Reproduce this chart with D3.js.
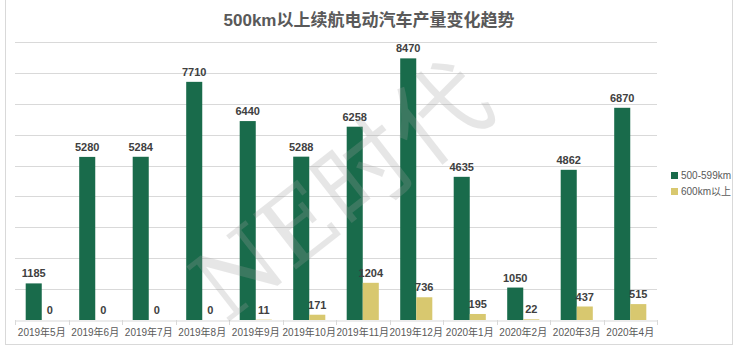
<!DOCTYPE html>
<html><head><meta charset="utf-8">
<script src="https://cdn.jsdelivr.net/npm/d3@7"></script>
<style>html,body{margin:0;padding:0;background:#fff;}svg{display:block;}</style>
</head><body>
<svg id="c" width="737" height="350"></svg>
<script>
const categories = ["2019年5月","2019年6月","2019年7月","2019年8月","2019年9月","2019年10月","2019年11月","2019年12月","2020年1月","2020年2月","2020年3月","2020年4月"];
const series500 = [1185,5280,5284,7710,6440,5288,6258,8470,4635,1050,4862,6870];
const series600 = [0,0,0,0,11,171,1204,736,195,22,437,515];
const seriesNames = ["500-599km","600km以上"];
const yTicks = [0,1000,2000,3000,4000,5000,6000,7000,8000,9000];

const colors = ["#196b4b","#d8c86f"];
const font = "'Liberation Sans','Noto Sans CJK SC',Arial,sans-serif";
const svg = d3.select("#c");

// outer frame
svg.append("rect").attr("x",5.5).attr("y",-1).attr("width",727).attr("height",345.5)
  .attr("fill","none").attr("stroke","#d9d9d9").attr("stroke-width",1);

const x0 = d3.scaleBand().domain(categories).range([15,657]).paddingInner(0.4).paddingOuter(0.2);
const x1 = d3.scaleBand().domain(seriesNames).range([0,x0.bandwidth()]);
const y = d3.scaleLinear().domain([0,9000]).range([320,42]);

// gridlines
svg.append("g").selectAll("line").data(yTicks.slice(1)).join("line")
  .attr("x1",15).attr("x2",657)
  .attr("y1",d=>Math.round(y(d))+0.5).attr("y2",d=>Math.round(y(d))+0.5)
  .attr("stroke","#d9d9d9").attr("stroke-width",1);

// title
svg.append("text").attr("x",369).attr("y",26).attr("text-anchor","middle")
  .attr("font-family",font).attr("font-size",17).attr("font-weight","bold")
  .attr("fill","#595959").text("500km以上续航电动汽车产量变化趋势");

const data = categories.map((c,i)=>({cat:c, vals:[series500[i],series600[i]]}));

const groups = svg.append("g").selectAll("g").data(data).join("g")
  .attr("transform",d=>`translate(${x0(d.cat)},0)`);
groups.selectAll("rect").data(d=>d.vals.map((v,j)=>({v,j}))).join("rect")
  .attr("x",d=>x1(seriesNames[d.j])).attr("width",x1.bandwidth())
  .attr("y",d=>y(d.v)).attr("height",d=>y(0)-y(d.v))
  .attr("fill",d=>colors[d.j]);
groups.selectAll("text").data(d=>d.vals.map((v,j)=>({v,j}))).join("text")
  .attr("x",d=>x1(seriesNames[d.j])+x1.bandwidth()/2)
  .attr("y",d=>y(d.v)-6)
  .attr("text-anchor","middle").attr("font-family",font).attr("font-size",11)
  .attr("font-weight","bold").attr("fill","#404040").text(d=>d.v);

// x axis
const xAxis = d3.axisBottom(x0).tickSize(0).tickPadding(8);
const ax = svg.append("g").attr("transform",`translate(0,${y(0)+0.5})`).call(xAxis);
ax.select(".domain").attr("stroke","#d9d9d9");
ax.selectAll("text").attr("font-family",font).attr("font-size",10).attr("fill","#595959");
// ticks at category boundaries
const bounds = d3.range(categories.length+1).map(i=>15+i*(642/categories.length));
svg.append("g").selectAll("line").data(bounds).join("line")
  .attr("x1",d=>Math.round(d)+0.5).attr("x2",d=>Math.round(d)+0.5)
  .attr("y1",y(0)).attr("y2",y(0)+5).attr("stroke","#d9d9d9");

// legend
const lg = svg.append("g").selectAll("g").data(seriesNames).join("g")
  .attr("transform",(d,i)=>`translate(671,${172+i*16})`);
lg.append("rect").attr("width",7).attr("height",7).attr("fill",(d,i)=>colors[i]);
lg.append("text").attr("x",10).attr("y",7).attr("font-family",font).attr("font-size",10)
  .attr("fill","#595959").text(d=>d);

// watermark
svg.append("text").attr("transform","translate(362,218) rotate(-38)")
  .attr("text-anchor","middle").attr("font-family","'DejaVu Serif','Noto Sans CJK SC',serif")
  .attr("font-size",96).attr("fill","#a0a0a0").attr("opacity",0.25).text("NE时代");
</script>
</body></html>
